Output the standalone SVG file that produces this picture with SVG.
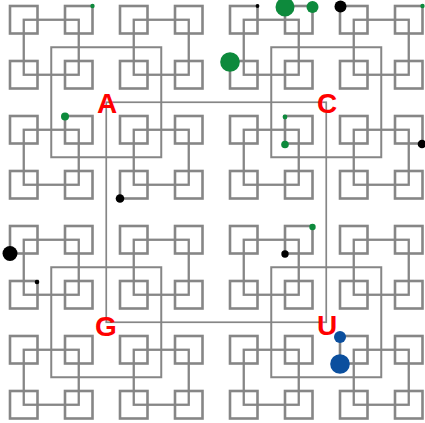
<svg xmlns="http://www.w3.org/2000/svg" width="425" height="423" viewBox="0 0 425 423">
<style>
.s0{fill:none;stroke:#868686;stroke-width:2.6}
.s1{fill:none;stroke:#868686;stroke-width:2.3}
.s2{fill:none;stroke:#868686;stroke-width:2}
.s3{fill:none;stroke:#868686;stroke-width:1.7}
.g{fill:#0d8a3c}
.k{fill:#000}
.b{fill:#0b4f9e}
.lbl{font-family:"Liberation Sans",Arial,sans-serif;font-weight:bold;font-size:28px;fill:#ff0000;text-anchor:middle}
</style>
<defs>
<rect id="q0" width="27.5" height="27.5" class="s0"/>
<g id="blk">
<use href="#q0" x="0" y="0"/><use href="#q0" x="55" y="0"/><use href="#q0" x="0" y="55"/><use href="#q0" x="55" y="55"/>
<rect x="13.75" y="13.75" width="55" height="55" class="s1"/>
</g>
<g id="quad">
<use href="#blk" x="0" y="0"/><use href="#blk" x="110" y="0"/><use href="#blk" x="0" y="110"/><use href="#blk" x="110" y="110"/>
<rect x="41.25" y="41.25" width="110" height="110" class="s2"/>
</g>
</defs>
<g id="connectors">
<use href="#quad" x="10" y="6"/>
<use href="#quad" x="230" y="6"/>
<use href="#quad" x="10" y="226"/>
<use href="#quad" x="230" y="226"/>
<rect x="106.25" y="102.25" width="220" height="220" class="s3"/>
</g>
<g id="dots">
<circle class="g" cx="92.5" cy="6" r="2.2"/>
<circle class="g" cx="65" cy="116.5" r="4"/>
<circle class="k" cx="120" cy="198.5" r="4.3"/>
<circle class="k" cx="257.5" cy="6" r="1.9"/>
<circle class="g" cx="285" cy="7" r="9.5"/>
<circle class="g" cx="312.5" cy="7" r="6"/>
<circle class="k" cx="340.5" cy="6.5" r="6"/>
<circle class="g" cx="422.5" cy="6" r="2.2"/>
<circle class="g" cx="230" cy="62" r="9.8"/>
<circle class="g" cx="285" cy="117" r="2.4"/>
<circle class="g" cx="285" cy="144.5" r="3.8"/>
<circle class="k" cx="422" cy="144" r="4.3"/>
<circle class="k" cx="10" cy="253.5" r="7.5"/>
<circle class="k" cx="37" cy="282" r="2.3"/>
<circle class="g" cx="312.5" cy="227" r="3.2"/>
<circle class="k" cx="285" cy="254" r="3.7"/>
<circle class="b" cx="340" cy="337" r="6"/>
<circle class="b" cx="340" cy="364" r="9.8"/>
</g>
<g id="node-A"><text class="lbl" x="107" y="112.5">A</text></g>
<g id="node-C"><text class="lbl" x="327" y="113">C</text></g>
<g id="node-G"><text class="lbl" x="106" y="335.5">G</text></g>
<g id="node-U"><text class="lbl" x="327" y="334.5">U</text></g>
</svg>
